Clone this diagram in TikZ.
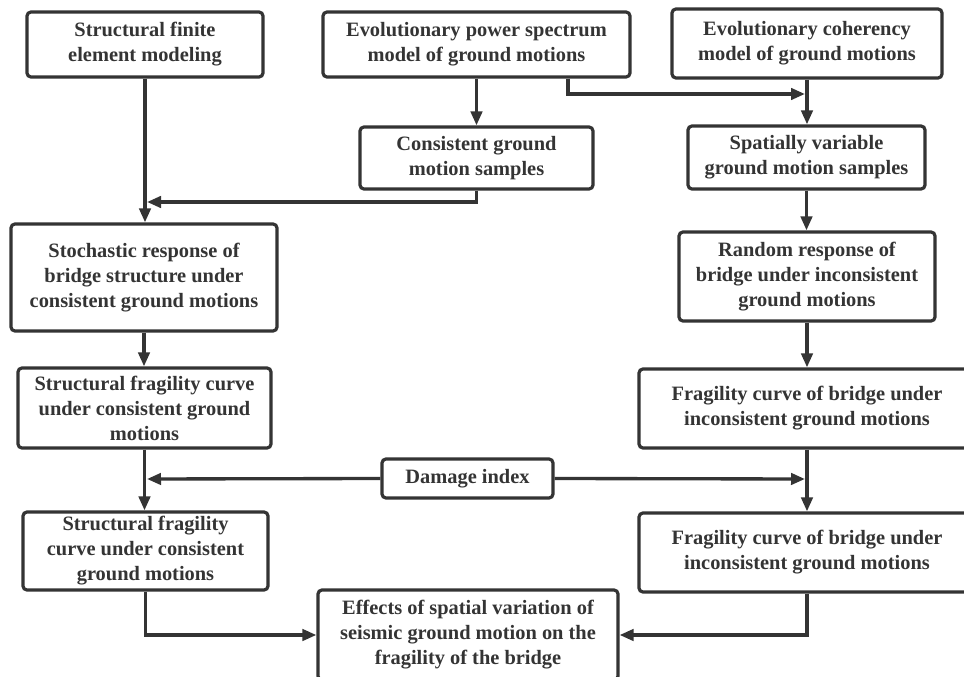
\documentclass[tikz,border=0pt]{standalone}
\usepackage{fontspec}
\setmainfont{Liberation Serif}
\usetikzlibrary{arrows.meta}

\definecolor{ink}{RGB}{52,52,52}
\tikzset{every picture/.style={line width=2.5pt}}
\tikzset{
  box/.style={draw=ink, text=ink, fill=white, line width=2.4pt, rounded corners=3pt, align=center, inner sep=0pt,
    font=\fontsize{15.3}{18.75}\selectfont\bfseries},
  arr/.style={draw=ink, line width=2.5pt, -{Triangle[length=10.5pt,width=8.5pt]}}
}

\begin{document}
\begin{tikzpicture}[x=0.75pt,y=0.75pt,yscale=-1,xscale=1]
\clip (0,0) rectangle (964,677);
\fill[white] (0,0) rectangle (964,677);

%Boxes, top row
\node [box, minimum width=177pt, minimum height=48.75pt] (sfem) at (145,44.5) {Structural finite\\element modeling};
\node [box, minimum width=230.25pt, minimum height=48.75pt] (evps) at (476.5,44.5) {Evolutionary power spectrum\\model of ground motions};
\node [box, minimum width=202.5pt, minimum height=51.75pt] (evcoh) at (807,43.5) {Evolutionary coherency\\model of ground motions};
%Samples
\node [box, minimum width=174.75pt, minimum height=46.5pt] (cgms) at (476.5,158) {Consistent ground\\motion samples};
\node [box, minimum width=177.75pt, minimum height=47.25pt] (svgms) at (806.5,157.5) {Spatially variable\\ground motion samples};
%Responses
\node [box, minimum width=199.5pt, minimum height=80.25pt] (stoch) at (144,277.5) {Stochastic response of\\bridge structure under\\consistent ground motions};
\node [box, minimum width=192pt, minimum height=66.75pt] (rresp) at (807,276.5) {Random response of\\bridge under inconsistent\\ground motions};
%Fragility curves
\node [box, minimum width=189.75pt, minimum height=60pt] (sfcA) at (144.5,408) {Structural fragility curve\\under consistent ground\\motions};
\node [box, minimum width=252pt, minimum height=59.25pt] (fcbA) at (807,408.5) {Fragility curve of bridge under\\inconsistent ground motions};
\node [box, minimum width=128.25pt, minimum height=29.25pt] (dmg) at (467.5,478.5) {Damage index};
\node [box, minimum width=183.75pt, minimum height=58.5pt] (sfcB) at (145.5,551) {Structural fragility\\curve under consistent\\ground motions};
\node [box, minimum width=252pt, minimum height=59.25pt] (fcbB) at (807,552.5) {Fragility curve of bridge under\\inconsistent ground motions};
%Result
\node [box, minimum width=225pt, minimum height=67.5pt] (eff) at (468,635) {Effects of spatial variation of\\seismic ground motion on the\\fragility of the bridge};

%Junction points
\coordinate (jL) at (147,202);
\coordinate (jR) at (805,94);
\coordinate (dL) at (147,479);
\coordinate (dR) at (805,479);

%Connectors, left column
\draw [arr] (sfem.south) -- (sfem.south |- stoch.north);
\draw [arr] (stoch.south) -- (stoch.south |- sfcA.north);
\draw [arr] (sfcA.south) -- (sfcA.south |- sfcB.north);
\draw [arr] (sfcB.south) |- (eff.west);
%Connectors, middle
\draw [arr] (evps.south) -- (cgms.north);
\draw [arr] (cgms.south) |- (jL);
\draw [arr] (568,0 |- evps.south) |- (jR);
\draw [arr] (dmg.west) -- (dL);
\draw [arr] (dmg.east) -- (dR);
%Connectors, right column
\draw [arr] (evcoh.south) -- (evcoh.south |- svgms.north);
\draw [arr] (svgms.south) -- (svgms.south |- rresp.north);
\draw [arr] (rresp.south) -- (rresp.south |- fcbA.north);
\draw [arr] (fcbA.south) -- (fcbB.north);
\draw [arr] (fcbB.south) |- (eff.east);

\end{tikzpicture}
\end{document}
